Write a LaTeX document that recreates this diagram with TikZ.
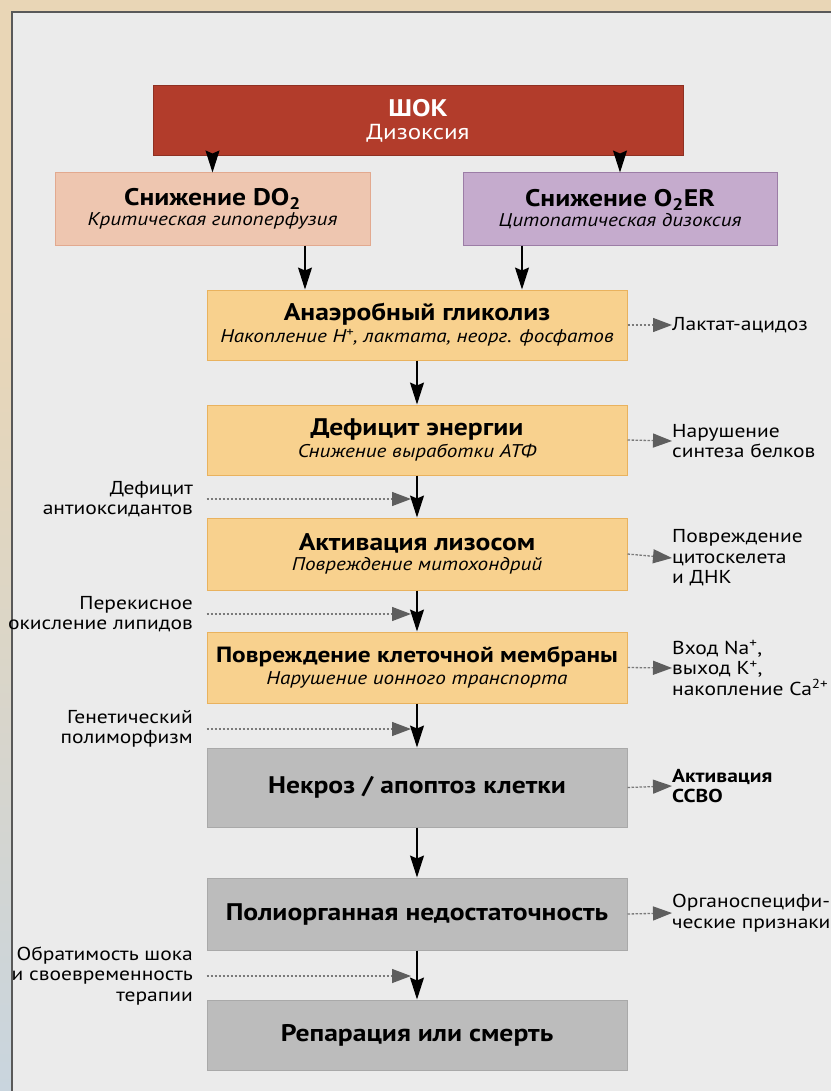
\documentclass[tikz,border=0pt]{standalone}
\usepackage{fontspec}
\setmainfont[FakeStretch=1.15]{PT Sans}
\usetikzlibrary{positioning,calc,arrows.meta}
\definecolor{frametan}{HTML}{E9D6B6}
\definecolor{frameblue}{HTML}{C9D5DE}
\definecolor{panelgray}{HTML}{EBEBEB}
\definecolor{shockred}{HTML}{B23C2B}
\definecolor{peach}{HTML}{EEC6B0}
\definecolor{peachdk}{HTML}{E2A98F}
\definecolor{lilac}{HTML}{C5ABCD}
\definecolor{lilacdk}{HTML}{9C7DA6}
\definecolor{amber}{HTML}{F8D18E}
\definecolor{amberdk}{HTML}{E9B25E}
\definecolor{stone}{HTML}{BCBCBC}
\definecolor{stonedk}{HTML}{A9A9A9}
\definecolor{sidegray}{HTML}{7A7A7A}
\definecolor{tipgray}{HTML}{5E5E5E}
\newcommand{\boxhead}[1]{{\fontsize{24}{25}\selectfont\bfseries #1}}
\newcommand{\boxnote}[1]{{\fontsize{18.4}{22}\selectfont\itshape #1}}
\tikzset{
  stepbase/.style={rectangle, align=center, inner sep=0pt, line width=1pt,
    minimum width=420pt, minimum height=70pt},
  redbox/.style={stepbase, fill=shockred, draw=shockred!80!black,
    minimum width=530pt, text=white},
  peachbox/.style={stepbase, fill=peach, draw=peachdk, minimum width=315pt, minimum height=72pt},
  lilacbox/.style={stepbase, fill=lilac, draw=lilacdk, minimum width=314pt, minimum height=72pt},
  amberbox/.style={stepbase, fill=amber, draw=amberdk},
  stonebox/.style={stepbase, fill=stone, draw=stonedk},
  rightnote/.style={anchor=west, align=left, inner sep=0pt,
    font=\fontsize{18.7}{20.5}\selectfont},
  leftnote/.style={anchor=east, align=right, inner sep=0pt,
    font=\fontsize{18.7}{20.5}\selectfont},
  mainarrow/.style={line width=1.1pt, -{Stealth[length=22pt,width=14pt,inset=3pt]}},
  sidearrow/.style={sidegray, line width=1.3pt, dash pattern=on 2.5pt off 1.5pt,
    -{Triangle[length=19pt,width=14pt,color=tipgray]}}
}
\begin{document}
\begin{tikzpicture}[x=1pt,y=-1pt]
  \useasboundingbox (0,0) rectangle (831,1091);
  \fill[frametan] (0,0) rectangle (831,1091);
  \shade[top color=frametan, bottom color=frameblue] (0,300) rectangle (12,1091);
  \fill[panelgray] (12,12) rectangle (831,1091);
  \draw[gray!70!black, line width=1.5pt] (12,1091) -- (12,12) -- (831,12);

  \node[redbox] (shock) at (418,121)
    {{\fontsize{24}{24}\selectfont\bfseries ШОК}\\[6pt]{\fontsize{21.7}{22}\selectfont Дизоксия}};
  \node[peachbox] (do2) at (212.5,209)
    {\boxhead{Снижение DO\textsubscript{2}}\\[2pt]\boxnote{Критическая гипоперфузия}};
  \node[lilacbox] (o2er) at (620,209)
    {\boxhead{Снижение O\textsubscript{2}ER}\\[2pt]\boxnote{Цитопатическая дизоксия}};
  \node[amberbox] (glyc) at (417,325)
    {\boxhead{Анаэробный гликолиз}\\[3pt]\boxnote{Накопление H\textsuperscript{+}, лактата, неорг. фосфатов}};
  \node[amberbox] (atp) at (417,440)
    {\boxhead{Дефицит энергии}\\[3pt]\boxnote{Снижение выработки АТФ}};
  \node[amberbox, minimum height=72pt] (lyso) at (417,554)
    {\boxhead{Активация лизосом}\\[3pt]\boxnote{Повреждение митохондрий}};
  \node[amberbox, minimum height=71pt] (membr) at (417,667.5)
    {{\fontsize{22}{25}\selectfont\bfseries Повреждение клеточной мембраны}\\[3pt]\boxnote{Нарушение ионного транспорта}};
  \node[stonebox, minimum height=79pt] (necro) at (417,787.5)
    {\boxhead{Некроз / апоптоз клетки}};
  \node[stonebox, minimum height=72pt] (mof) at (417,914)
    {\boxhead{Полиорганная недостаточность}};
  \node[stonebox] (fate) at (417,1035)
    {\boxhead{Репарация или смерть}};

  \node[rightnote] (acid) at (672,325) {Лактат-ацидоз};
  \node[rightnote] (prot) at (672,441) {Нарушение\\синтеза белков};
  \node[rightnote] (dna) at (672,558) {Повреждение\\цитоскелета\\и ДНК};
  \node[rightnote] (ions) at (672,668)
    {Вход Na\textsuperscript{+},\\выход K\textsuperscript{+},\\накопление Ca\textsuperscript{2+}};
  \node[rightnote, font=\fontsize{18.7}{20.5}\selectfont\bfseries] (sirs) at (672,786) {Активация\\ССВО};
  \node[rightnote] (organ) at (672,913) {Органоспецифи-\\ческие признаки};

  \node[leftnote] (antiox) at (193,499) {Дефицит\\антиоксидантов};
  \node[leftnote] (lipid) at (193,614) {Перекисное\\окисление липидов};
  \node[leftnote] (genet) at (193,729) {Генетический\\полиморфизм};
  \node[leftnote] (revers) at (193,976) {Обратимость шока\\и своевременность\\терапии};

  \path[mainarrow]
    (shock.south -| do2.north) edge (do2.north)
    (shock.south -| o2er.north) edge (o2er.north)
    ([xshift=-112pt]glyc.north |- do2.south) edge ([xshift=-112pt]glyc.north)
    ([xshift=105pt]glyc.north |- o2er.south) edge ([xshift=105pt]glyc.north)
    (glyc) edge (atp)
    (atp) edge (lyso)
    (lyso) edge (membr)
    (membr) edge (necro)
    (necro) edge (mof)
    (mof) edge (fate);

  \path[sidearrow]
    (glyc.east) edge (acid.west)
    (atp.east) edge (prot.west)
    (lyso.east) edge (dna.west)
    (membr.east) edge (ions.west)
    (necro.east) edge (sirs.west)
    (mof.east) edge (organ.west)
    (antiox.east -| atp.west) edge ([xshift=-6pt]antiox.east -| atp.south)
    (lipid.east -| atp.west) edge ([xshift=-6pt]lipid.east -| atp.south)
    (genet.east -| atp.west) edge ([xshift=-6pt]genet.east -| atp.south)
    (revers.east -| atp.west) edge ([xshift=-6pt]revers.east -| atp.south);
\end{tikzpicture}
\end{document}
